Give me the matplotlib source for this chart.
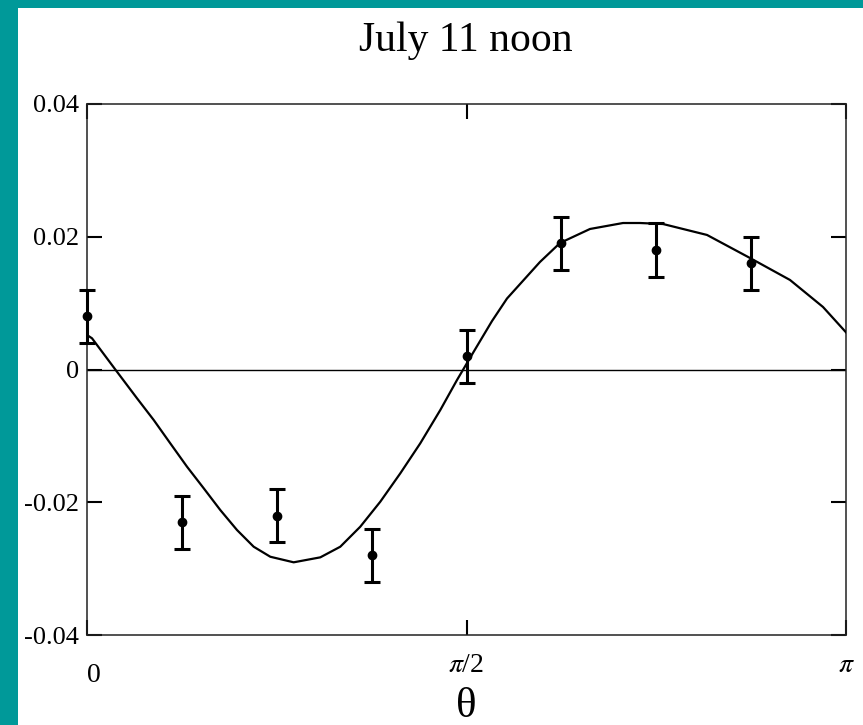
import numpy as np
import matplotlib
matplotlib.use('Agg')
import matplotlib.pyplot as plt
from matplotlib.patches import Rectangle
from matplotlib.transforms import ScaledTranslation

# 数据点（θ 以 π 为单位）
pt_theta = [0, 1/8, 2/8, 3/8, 4/8, 5/8, 6/8, 7/8]
pt_value = [0.008, -0.023, -0.022, -0.028, 0.002, 0.019, 0.018, 0.016]
pt_err = [0.004, 0.004, 0.004, 0.004, 0.004, 0.004, 0.004, 0.004]

# 拟合曲线
curve_theta = [0.0, 0.0066, 0.0373, 0.0659, 0.0879, 0.1097, 0.1318, 0.1538, 0.1756, 0.1976,
               0.2196, 0.2415, 0.2723, 0.3074, 0.3337, 0.3600, 0.3864, 0.4128, 0.4391,
               0.4655, 0.4875, 0.5095, 0.5336, 0.5534, 0.5968, 0.6232, 0.6627, 0.7062,
               0.7286, 0.7589, 0.8169, 0.8735, 0.9262, 0.9697, 1.0]
curve_value = [0.0052, 0.0047, 0.0000, -0.00434, -0.00761, -0.01112, -0.01465, -0.01790,
               -0.02117, -0.02418, -0.02670, -0.02821, -0.02905, -0.02830, -0.02670, -0.02369,
               -0.01992, -0.01564, -0.01112, -0.00610, -0.00158, 0.00268, 0.00730, 0.01070,
               0.01620, 0.01906, 0.02117, 0.02207, 0.02207, 0.02192, 0.02027, 0.01680,
               0.01349, 0.00942, 0.00560]

yticks = [-0.04, -0.02, 0, 0.02, 0.04]
ytick_labels = ['-0.04', '-0.02', '0', '0.02', '0.04']
xticks = [0, 0.5, 1]
xtick_labels = ['0', r'$\pi$/2', r'$\pi$']

plt.rcParams['font.family'] = ['Liberation Serif', 'DejaVu Serif']
plt.rcParams['mathtext.fontset'] = 'stix'

fig = plt.figure(figsize=(8.63, 7.25), dpi=100)
fig.patch.set_facecolor('#009999')
# 白色区域（左边和上边留青色边框）
fig.patches.append(Rectangle((18/863, 0), 1, 1 - 8/725, transform=fig.transFigure,
                             facecolor='white', edgecolor='none', zorder=-10))

ax = fig.add_axes([87/863, 1 - 635/725, (846-87)/863, (635-104)/725])
ax.set_facecolor('white')

xs = np.array(curve_theta) * np.pi
ax.plot(xs, curve_value, color='black', lw=1.6, solid_joinstyle='round', zorder=3)
ax.axhline(0, color='black', lw=1.0, zorder=2)

ax.errorbar(np.array(pt_theta) * np.pi, pt_value, yerr=pt_err, fmt='o', color='black',
            markersize=6, elinewidth=2.2, capsize=6, capthick=2.2, zorder=4, clip_on=False)

ax.set_xlim(0, np.pi)
ax.set_ylim(-0.04, 0.04)
ax.set_xticks(np.array(xticks) * np.pi)
ax.set_xticklabels(xtick_labels, fontsize=20)
ax.set_yticks(yticks)
ax.set_yticklabels(ytick_labels, fontsize=19)
ax.tick_params(direction='in', length=11, width=1.5, top=True, right=True)
ax.tick_params(axis='x', pad=13)
ax.tick_params(axis='y', pad=6)
for s in ax.spines.values():
    s.set_linewidth(1.1)
    s.set_color('#222222')

# "0" 标签在原图中稍微偏右偏下
lab0 = ax.get_xticklabels()[0]
lab0.set_transform(lab0.get_transform() + ScaledTranslation(7/100, -10/100, fig.dpi_scale_trans))

fig.text(466/863, 1 - 51/725, 'July 11 noon', ha='center', va='baseline', fontsize=30)
fig.text(466/863, 1 - 717/725, 'θ', ha='center', va='baseline', fontsize=31)

fig.savefig('out.png', dpi=100, facecolor=fig.get_facecolor())
